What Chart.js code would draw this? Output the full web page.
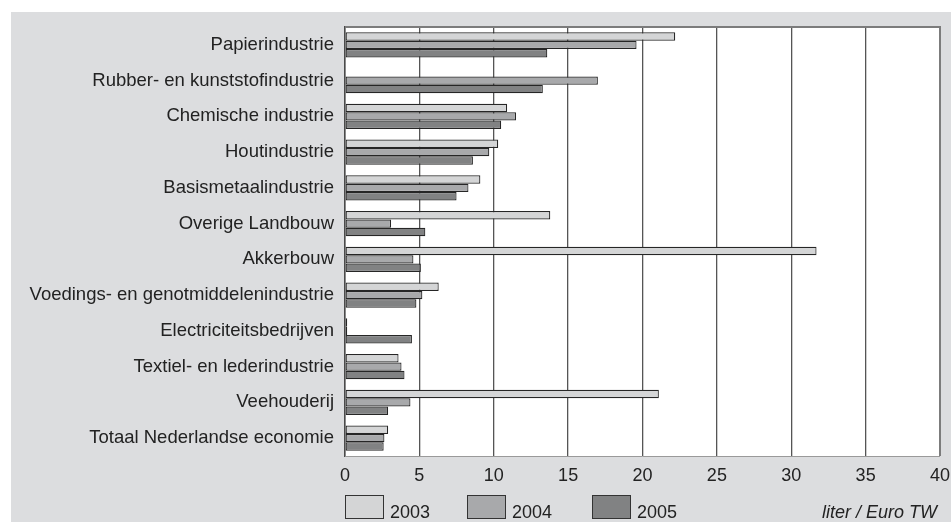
<!DOCTYPE html>
<html>
<head>
<meta charset="utf-8">
<script src="https://cdn.jsdelivr.net/npm/chart.js@4"></script>
<style>
    body { margin: 0; background: #ffffff; }
    #panel { position: absolute; left: 11px; top: 12px; width: 940px; height: 510px; background: #dcdddf; }
</style>
</head>
<body>
<div id="panel"><canvas id="chart" width="940" height="510"></canvas></div>
<script>
var categories = [
    'Papierindustrie',
    'Rubber- en kunststofindustrie',
    'Chemische industrie',
    'Houtindustrie',
    'Basismetaalindustrie',
    'Overige Landbouw',
    'Akkerbouw',
    'Voedings- en genotmiddelenindustrie',
    'Electriciteitsbedrijven',
    'Textiel- en lederindustrie',
    'Veehouderij',
    'Totaal Nederlandse economie'
];
var years = ['2003', '2004', '2005'];
var values2003 = [22.2, null, 10.9, 10.3, 9.1, 13.8, 31.7, 6.3, 0.15, 3.6, 21.1, 2.9];
var values2004 = [19.6, 17.0, 11.5, 9.7, 8.3, 3.1, 4.6, 5.2, 0.15, 3.8, 4.4, 2.65];
var values2005 = [13.6, 13.3, 10.5, 8.6, 7.5, 5.4, 5.1, 4.8, 4.5, 4.0, 2.9, 2.6];
var barColors = ['#d4d5d6', '#a8a9ab', '#818283'];
var unitText = 'liter / Euro TW';
var fontFamily = "'Liberation Sans', Arial, sans-serif";

// white plot area, frame and legend row
var framePlugin = {
    id: 'frame',
    beforeDraw: function(chart) {
        var a = chart.chartArea;
        var ctx = chart.ctx;
        ctx.save();
        ctx.fillStyle = '#ffffff';
        ctx.fillRect(a.left, a.top, a.right - a.left, a.bottom - a.top);
        ctx.restore();
    },
    afterDraw: function(chart) {
        var a = chart.chartArea;
        var ctx = chart.ctx;
        ctx.save();
        ctx.strokeStyle = '#7c7c7c';
        ctx.lineWidth = 2;
        ctx.beginPath();
        ctx.moveTo(a.left, a.top);
        ctx.lineTo(a.right, a.top);
        ctx.lineTo(a.right, a.bottom);
        ctx.stroke();
        ctx.strokeStyle = '#9a9a9a';
        ctx.lineWidth = 1;
        ctx.beginPath();
        ctx.moveTo(a.left, a.bottom + 0.5);
        ctx.lineTo(a.right, a.bottom + 0.5);
        ctx.stroke();

        // legend
        var boxX = [334, 456, 581];
        var boxY = 483;
        ctx.font = '18px ' + fontFamily;
        ctx.textBaseline = 'alphabetic';
        ctx.textAlign = 'left';
        chart.data.datasets.forEach(function(ds, i) {
            ctx.fillStyle = ds.backgroundColor;
            ctx.fillRect(boxX[i], boxY, 38, 23);
            ctx.strokeStyle = '#333333';
            ctx.lineWidth = 1;
            ctx.strokeRect(boxX[i] + 0.5, boxY + 0.5, 38, 23);
            ctx.fillStyle = '#222222';
            ctx.fillText(ds.label, boxX[i] + 45, 506);
        });
        ctx.font = 'italic 18px ' + fontFamily;
        ctx.textAlign = 'right';
        ctx.fillText(unitText, 926, 506);
        ctx.restore();
    }
};

var ctx = document.getElementById('chart').getContext('2d');
var myChart = new Chart(ctx, {
    type: 'bar',
    data: {
        labels: categories,
        datasets: [values2003, values2004, values2005].map(function(vals, i) {
            return {
                label: years[i],
                data: vals,
                backgroundColor: barColors[i],
                borderColor: '#262626',
                borderWidth: 1.2,
                borderSkipped: false,
                categoryPercentage: 0.7,
                barPercentage: 1.0
            };
        })
    },
    options: {
        indexAxis: 'y',
        responsive: false,
        animation: false,
        layout: { padding: { top: 15, right: 11, left: 0, bottom: 0 } },
        plugins: {
            legend: { display: false },
            tooltip: { enabled: false }
        },
        scales: {
            y: {
                grid: { display: false, drawTicks: false },
                border: { color: '#4a4a4a', width: 1.5 },
                ticks: { color: '#222222', padding: 11, font: { size: 18.5, family: fontFamily } },
                afterFit: function(scale) {
                    scale.width = 334;
                    scale.paddingTop = 0;
                    scale.paddingBottom = 0;
                }
            },
            x: {
                min: 0,
                max: 40,
                grid: { color: '#555555', lineWidth: 1.3, drawTicks: false },
                border: { display: false },
                ticks: { stepSize: 5, color: '#222222', padding: 9, font: { size: 18, family: fontFamily } },
                afterFit: function(scale) {
                    scale.height = 66;
                    scale.paddingLeft = 0;
                    scale.paddingRight = 0;
                }
            }
        }
    },
    plugins: [framePlugin]
});
</script>
</body>
</html>
